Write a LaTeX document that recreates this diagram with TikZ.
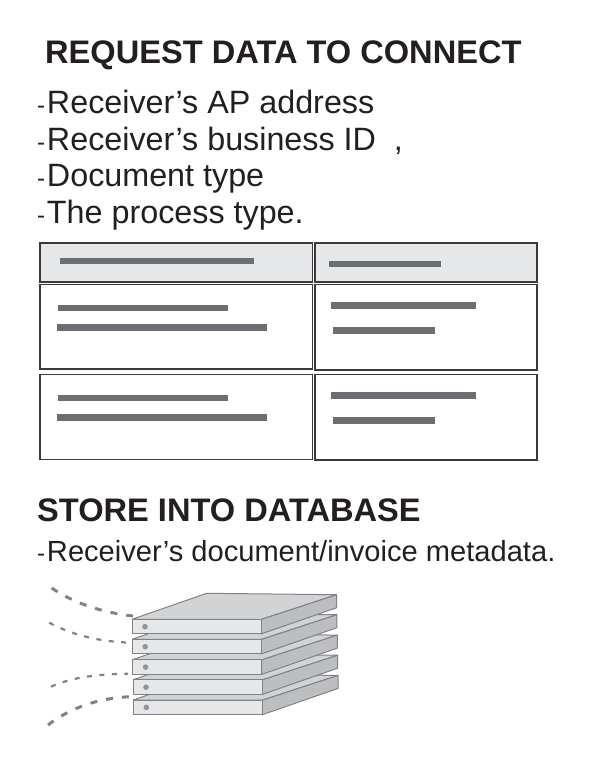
\documentclass[tikz,border=0pt]{standalone}
\usepackage{fontspec}
\setmainfont{Liberation Sans}
\definecolor{cellgray}{HTML}{E6E7E8}
\definecolor{barline}{HTML}{6D6E71}
\definecolor{cellline}{HTML}{3A3A3C}
\definecolor{txt}{HTML}{231F20}
\definecolor{slabfront}{HTML}{E6E7E8}
\definecolor{slabtop}{HTML}{D1D3D4}
\definecolor{slabside}{HTML}{BCBEC0}
\definecolor{slabline}{HTML}{808285}
\definecolor{slabdot}{HTML}{939598}
\tikzset{
  cell/.style={draw=cellline,line width=1.2pt,fill=white},
  headcell/.style={cell,fill=cellgray},
  bar/.style={fill=barline,draw=none},
  title/.style={anchor=base west,inner sep=0pt,font=\fontsize{32.6}{32.6}\selectfont\bfseries,text=txt},
  body/.style={anchor=base west,inner sep=0pt,font=\fontsize{32.3}{32.3}\selectfont,text=txt},
  slab/.style={draw=slabline,line width=1pt,line join=round},
  link/.style={draw=slabline,line width=3pt,dash pattern=on 7pt off 9pt},
  thinlink/.style={draw=slabline,line width=2.2pt,dash pattern=on 5pt off 7.5pt},
}
\newcommand{\dashmark}{{\fontsize{24}{24}\selectfont -}\kern1.8pt}
\newcommand{\slabat}[2]{%
  \begin{scope}[shift={(#1,#2)}]
    \path[slab,fill=slabtop] (132,619.3) -- (206.7,593.3) -- (336.7,594.7) -- (261,619.5) -- cycle;
    \path[slab,fill=slabside] (261,619.5) -- (336.7,594.7) -- (336.7,607.7) -- (261,634) -- cycle;
    \path[slab,fill=slabfront] (132,619.3) rectangle (261,633.6);
    \fill[slabdot] (145,626.7) circle (2.8pt);
  \end{scope}}
\begin{document}
\begin{tikzpicture}[x=1pt,y=-1pt]
\useasboundingbox (0,0) rectangle (600,759);
\node[title] at (45,64) {REQUEST DATA TO CONNECT};
\node[body] at (37,114) {\dashmark Receiver’s AP address};
\node[body] at (37,150.5) {\dashmark Receiver’s business ID\ \ ,};
\node[body] at (37,187) {\dashmark Document type};
\node[body] at (37,223.5) {\dashmark The process type.};
% table
\draw[headcell] (40,243) rectangle (312.8,282);
\draw[headcell] (315,243) rectangle (537,282);
\draw[cell] (40,284.5) rectangle (312.8,369);
\draw[cell] (315,284.5) rectangle (537,370);
\draw[cell] (40,374.5) rectangle (312.8,459.5);
\draw[cell] (315,374.5) rectangle (537,460);
\fill[bar] (60,257.7) rectangle (254,264.3);
\fill[bar] (329,261) rectangle (441,267);
\fill[bar] (58,304.7) rectangle (228,311.4);
\fill[bar] (57.3,324.3) rectangle (267.3,331);
\fill[bar] (331,302) rectangle (476,308.7);
\fill[bar] (333,327.3) rectangle (435,334);
\fill[bar] (58,394.5) rectangle (228,401.2);
\fill[bar] (57.3,414) rectangle (267.3,420.7);
\fill[bar] (331,392) rectangle (476,398.7);
\fill[bar] (333,417.3) rectangle (435,424);
\node[title] at (37,521) {STORE INTO DATABASE};
\node[body,font=\fontsize{29.1}{29.1}\selectfont] at (37,561.5) {\dashmark Receiver’s document/invoice metadata.};
% server stack
\slabat{1.3}{80.7}
\slabat{1}{60.5}
\slabat{0.6}{40.4}
\slabat{0.2}{20}
\slabat{0}{0}
% links
\draw[link] (51.7,588) .. controls (75,604) and (105,613) .. (133,616);
\draw[thinlink] (49.3,622.7) .. controls (72,635) and (100,642) .. (132,642.7);
\draw[thinlink] (51,686.7) .. controls (72,677) and (100,674) .. (128,673.7);
\draw[link] (48,725) .. controls (70,708) and (98,698) .. (130,696.7);
\end{tikzpicture}
\end{document}
